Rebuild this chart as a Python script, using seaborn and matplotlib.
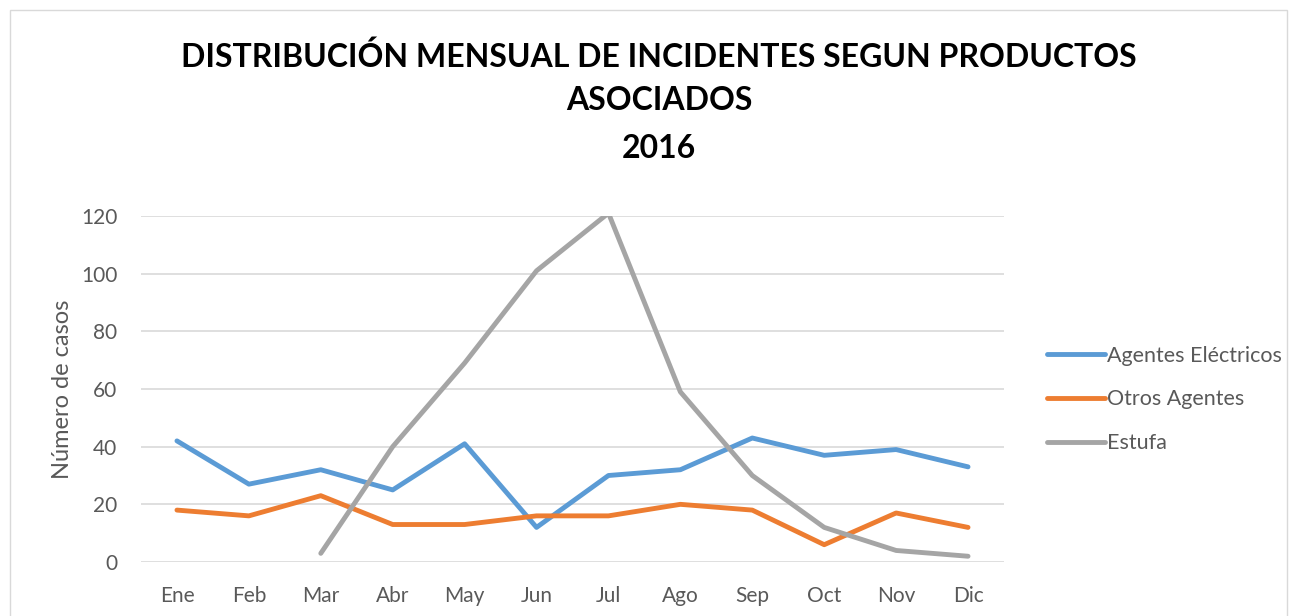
import pandas as pd
import numpy as np
import matplotlib.pyplot as plt
import seaborn as sns
from matplotlib.patches import Rectangle

# Monthly data
meses = ['Ene', 'Feb', 'Mar', 'Abr', 'May', 'Jun', 'Jul', 'Ago', 'Sep', 'Oct', 'Nov', 'Dic']
agentes_electricos = [42, 27, 32, 25, 41, 12, 30, 32, 43, 37, 39, 33]
otros_agentes = [18, 16, 23, 13, 13, 16, 16, 20, 18, 6, 17, 12]
estufa = [np.nan, np.nan, 3, 40, 69, 101, 121, 59, 30, 12, 4, 2]

series = ['Agentes Eléctricos', 'Otros Agentes', 'Estufa']
colores = ['#5b9bd5', '#ed7d31', '#a5a5a5']

df = pd.DataFrame({
    'Mes': meses * 3,
    'Casos': agentes_electricos + otros_agentes + estufa,
    'Serie': [s for s in series for _ in meses],
})

sns.set_style('white')
plt.rcParams['font.family'] = ['Lato', 'DejaVu Sans']

fig = plt.figure(figsize=(12.97, 6.16), dpi=100)
ax = fig.add_axes([141 / 1297, (616 - 562) / 616, (1004 - 141) / 1297, (562 - 216) / 616])

sns.lineplot(data=df, x='Mes', y='Casos', hue='Serie', palette=colores,
             linewidth=3.5, sort=False, ax=ax)

ax.set_xlim(-0.5, 11.5)
ax.set_ylim(0, 120)
ax.set_yticks(range(0, 121, 20))
ax.yaxis.grid(True, color='#d9d9d9', linewidth=1.2)
ax.set_axisbelow(True)
for s in ax.spines.values():
    s.set_visible(False)
ax.tick_params(axis='both', length=0, labelsize=15, labelcolor='#595959')
ax.tick_params(axis='y', pad=17)
ax.tick_params(axis='x', pad=17)
ax.set_xlabel('')
ax.set_ylabel('Número de casos', fontsize=17, color='#595959', labelpad=6)

leg = ax.legend(loc='center left', bbox_to_anchor=(1.04, 0.47), frameon=False,
                fontsize=15.5, labelcolor='#595959', handlelength=2.7,
                handletextpad=0.1, labelspacing=1.1, borderaxespad=0)
for line in leg.get_lines():
    line.set_linewidth(3.5)

fig.text(659 / 1297, 1 - 57 / 616, 'DISTRIBUCIÓN MENSUAL DE INCIDENTES SEGUN PRODUCTOS',
         ha='center', va='center', fontsize=23, fontweight='bold', color='black')
fig.text(659 / 1297, 1 - 101 / 616, 'ASOCIADOS',
         ha='center', va='center', fontsize=23, fontweight='bold', color='black')
fig.text(659 / 1297, 1 - 148 / 616, '2016',
         ha='center', va='center', fontsize=23, fontweight='bold', color='black')

fig.patches.append(Rectangle((10 / 1297, -0.01), 1277 / 1297, 1 - 10 / 616 + 0.01,
                             transform=fig.transFigure, fill=False,
                             edgecolor='#d9d9d9', linewidth=1))

fig.savefig('out.png', dpi=100)
